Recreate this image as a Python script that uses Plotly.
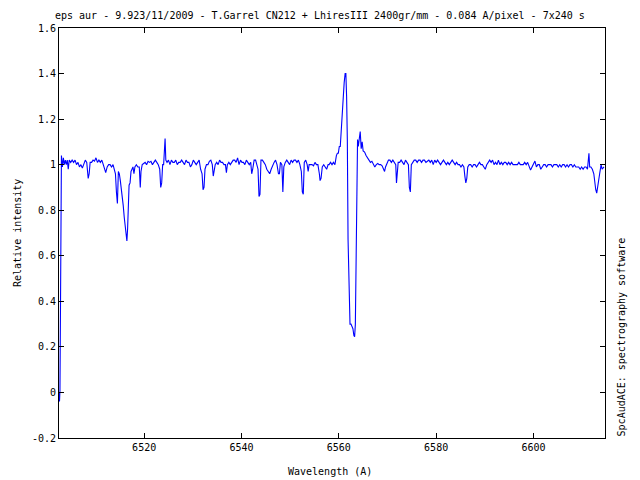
import plotly.graph_objects as go

# Spectrum (wavelength in Angstrom, relative intensity)
wavelength = [
    6502.50, 6502.60, 6502.70, 6502.85, 6503.00, 6503.20, 6503.40, 6503.60, 6503.80, 6504.00,
    6504.20, 6504.40, 6504.60, 6504.90, 6505.20, 6505.50, 6505.80, 6506.10, 6506.40, 6506.70,
    6507.00, 6507.30, 6507.60, 6507.90, 6508.20, 6508.50, 6508.70, 6508.90, 6509.20, 6509.50,
    6509.80, 6510.10, 6510.40, 6510.70, 6511.00, 6511.30, 6511.60, 6511.90, 6512.10, 6512.40,
    6512.70, 6513.00, 6513.30, 6513.60, 6513.90, 6514.10, 6514.30, 6514.50, 6514.70, 6514.90,
    6515.10, 6515.30, 6515.50, 6515.70, 6515.90, 6516.10, 6516.30, 6516.45, 6516.60, 6516.75,
    6516.90, 6517.10, 6517.30, 6517.50, 6517.70, 6517.90, 6518.10, 6518.40, 6518.70, 6519.00,
    6519.20, 6519.35, 6519.60, 6519.90, 6520.20, 6520.50, 6520.80, 6521.10, 6521.40, 6521.70,
    6522.00, 6522.30, 6522.60, 6522.90, 6523.20, 6523.40, 6523.60, 6523.80, 6524.00, 6524.15,
    6524.30, 6524.45, 6524.70, 6525.00, 6525.30, 6525.60, 6525.90, 6526.20, 6526.50, 6526.80,
    6527.10, 6527.40, 6527.70, 6528.00, 6528.30, 6528.60, 6528.90, 6529.20, 6529.50, 6529.80,
    6530.10, 6530.40, 6530.70, 6531.00, 6531.30, 6531.60, 6531.90, 6532.10, 6532.30, 6532.50,
    6532.80, 6533.10, 6533.40, 6533.70, 6534.00, 6534.20, 6534.40, 6534.60, 6534.90, 6535.20,
    6535.50, 6535.80, 6536.10, 6536.40, 6536.70, 6536.90, 6537.10, 6537.40, 6537.70, 6538.00,
    6538.30, 6538.60, 6538.90, 6539.20, 6539.50, 6539.80, 6540.10, 6540.40, 6540.70, 6541.00,
    6541.30, 6541.60, 6541.90, 6542.10, 6542.30, 6542.60, 6542.90, 6543.10, 6543.40, 6543.60,
    6543.80, 6544.00, 6544.30, 6544.60, 6544.90, 6545.20, 6545.50, 6545.80, 6546.10, 6546.40,
    6546.70, 6547.00, 6547.30, 6547.60, 6547.80, 6548.00, 6548.30, 6548.50, 6548.70, 6549.00,
    6549.30, 6549.60, 6549.90, 6550.20, 6550.50, 6550.80, 6551.10, 6551.40, 6551.70, 6552.00,
    6552.30, 6552.50, 6552.70, 6552.90, 6553.20, 6553.50, 6553.70, 6553.90, 6554.20, 6554.50,
    6554.80, 6555.10, 6555.40, 6555.70, 6556.00, 6556.15, 6556.35, 6556.60, 6556.90, 6557.20,
    6557.50, 6557.80, 6558.00, 6558.30, 6558.60, 6558.90, 6559.20, 6559.50, 6559.70, 6559.90,
    6560.10, 6560.30, 6560.50, 6560.70, 6560.90, 6561.10, 6561.30, 6561.45, 6561.60, 6561.75,
    6561.90, 6562.10, 6562.30, 6562.50, 6562.70, 6562.90, 6563.10, 6563.25, 6563.40, 6563.55,
    6563.70, 6563.85, 6564.00, 6564.20, 6564.40, 6564.60, 6564.80, 6565.00, 6565.30, 6565.60,
    6565.90, 6566.20, 6566.50, 6566.80, 6567.10, 6567.40, 6567.70, 6568.00, 6568.30, 6568.60,
    6568.90, 6569.20, 6569.40, 6569.60, 6569.90, 6570.20, 6570.50, 6570.80, 6571.10, 6571.40,
    6571.70, 6571.85, 6572.00, 6572.20, 6572.50, 6572.80, 6573.10, 6573.40, 6573.70, 6574.00,
    6574.30, 6574.50, 6574.70, 6574.90, 6575.20, 6575.50, 6575.80, 6576.10, 6576.40, 6576.70,
    6577.00, 6577.30, 6577.60, 6577.90, 6578.20, 6578.50, 6578.80, 6579.10, 6579.40, 6579.70,
    6580.00, 6580.30, 6580.60, 6580.90, 6581.20, 6581.50, 6581.80, 6582.10, 6582.40, 6582.70,
    6583.00, 6583.30, 6583.60, 6583.90, 6584.20, 6584.50, 6584.80, 6585.10, 6585.40, 6585.70,
    6585.90, 6586.10, 6586.30, 6586.50, 6586.80, 6587.10, 6587.40, 6587.70, 6588.00, 6588.30,
    6588.60, 6588.90, 6589.20, 6589.50, 6589.80, 6590.10, 6590.40, 6590.70, 6591.00, 6591.30,
    6591.60, 6591.90, 6592.20, 6592.50, 6592.80, 6593.10, 6593.40, 6593.70, 6594.00, 6594.30,
    6594.60, 6594.90, 6595.20, 6595.50, 6595.80, 6596.10, 6596.40, 6596.70, 6597.00, 6597.30,
    6597.60, 6597.90, 6598.20, 6598.50, 6598.80, 6599.10, 6599.40, 6599.70, 6600.00, 6600.30,
    6600.60, 6600.90, 6601.20, 6601.50, 6601.80, 6602.10, 6602.40, 6602.70, 6603.00, 6603.30,
    6603.60, 6603.90, 6604.20, 6604.50, 6604.80, 6605.10, 6605.40, 6605.70, 6606.00, 6606.30,
    6606.60, 6606.90, 6607.20, 6607.50, 6607.80, 6608.10, 6608.40, 6608.70, 6609.00, 6609.30,
    6609.60, 6609.90, 6610.20, 6610.50, 6610.80, 6611.10, 6611.40, 6611.55, 6611.80, 6612.10,
    6612.40, 6612.60, 6612.80, 6613.00, 6613.25, 6613.60, 6613.90, 6614.10, 6614.50,
]

intensity = [
    0.00, -0.04, 0.01, 0.48, 1.04, 0.99, 1.03, 1.00, 1.02, 1.00,
    1.02, 0.98, 1.02, 1.01, 1.02, 1.01, 1.02, 1.00, 1.01, 0.99,
    1.00, 0.985, 1.00, 1.02, 1.01, 0.94, 0.96, 1.01, 1.01, 1.02,
    1.015, 1.03, 1.01, 1.02, 1.01, 1.02, 1.00, 0.98, 0.965, 0.99,
    1.00, 1.00, 0.99, 1.00, 0.98, 0.96, 0.88, 0.83, 0.97, 0.96,
    0.93, 0.90, 0.86, 0.82, 0.77, 0.72, 0.68, 0.665, 0.72, 0.85,
    0.91, 0.92, 0.97, 0.98, 0.99, 0.96, 0.99, 1.00, 0.99, 0.99,
    0.90, 0.97, 1.00, 1.005, 1.01, 1.00, 1.015, 1.01, 1.015, 1.00,
    1.01, 1.02, 1.01, 1.00, 0.98, 0.90, 0.92, 1.00, 1.00, 1.08,
    1.115, 1.02, 1.01, 1.02, 1.00, 1.02, 1.01, 1.01, 1.02, 1.00,
    1.01, 1.01, 1.02, 1.01, 1.00, 1.02, 1.01, 1.01, 0.99, 1.00,
    1.02, 1.01, 1.00, 1.01, 1.02, 0.98, 0.96, 0.89, 0.90, 0.98,
    1.00, 1.00, 1.015, 1.02, 1.00, 0.95, 0.97, 1.00, 1.01, 1.00,
    1.02, 1.01, 1.01, 1.00, 1.00, 0.965, 1.00, 1.01, 1.00, 1.01,
    1.02, 1.02, 1.01, 1.03, 1.00, 1.02, 1.01, 1.01, 1.00, 1.02,
    1.01, 1.00, 1.01, 0.96, 0.98, 1.02, 1.02, 1.00, 0.98, 0.86,
    0.87, 1.02, 1.02, 1.01, 1.00, 0.98, 0.97, 0.96, 0.98, 1.00,
    1.01, 1.02, 1.00, 0.96, 0.96, 1.01, 1.00, 0.88, 0.99, 1.01,
    1.02, 1.01, 1.00, 1.02, 1.01, 1.02, 1.02, 1.01, 1.02, 1.00,
    0.97, 0.88, 0.87, 1.01, 1.02, 1.00, 0.97, 1.00, 1.00, 1.00,
    0.995, 1.01, 1.00, 1.00, 0.96, 0.93, 0.94, 0.99, 1.00, 0.99,
    0.98, 1.00, 1.00, 1.01, 1.00, 1.01, 1.00, 1.04, 1.05, 1.05,
    1.08, 1.08, 1.165, 1.20, 1.31, 1.36, 1.40, 1.40, 1.30, 1.11,
    0.67, 0.41, 0.30, 0.30, 0.29, 0.28, 0.25, 0.245, 0.30, 0.54,
    0.87, 1.11, 1.08, 1.12, 1.145, 1.07, 1.10, 1.06, 1.055, 1.04,
    1.03, 1.02, 1.01, 1.015, 1.00, 0.99, 1.00, 1.005, 1.00, 1.00,
    0.995, 0.98, 0.97, 0.99, 1.01, 1.02, 1.02, 1.01, 1.02, 1.01,
    1.00, 0.92, 0.95, 1.01, 1.01, 1.02, 1.01, 1.00, 1.02, 1.01,
    1.00, 0.90, 0.88, 1.00, 1.01, 1.02, 1.02, 1.01, 1.02, 1.02,
    1.01, 1.02, 1.02, 1.01, 1.015, 1.02, 1.01, 1.02, 1.00, 1.02,
    1.01, 1.02, 1.01, 1.00, 1.01, 1.02, 1.01, 1.00, 1.01, 1.00,
    1.01, 1.02, 1.01, 1.00, 1.01, 1.00, 1.00, 0.99, 1.00, 0.99,
    0.95, 0.92, 0.94, 0.99, 1.00, 1.00, 0.99, 1.00, 1.00, 0.99,
    1.00, 1.01, 1.00, 1.00, 0.99, 0.98, 1.00, 1.01, 1.02, 1.01,
    1.02, 1.00, 1.01, 1.00, 1.02, 1.00, 1.01, 1.00, 1.01, 1.01,
    1.00, 1.01, 1.00, 1.01, 1.00, 1.00, 1.00, 1.00, 1.01, 1.00,
    1.00, 1.00, 1.01, 1.00, 1.01, 0.99, 0.976, 0.99, 1.00, 1.016,
    0.99, 1.00, 1.00, 0.98, 0.99, 1.00, 1.00, 0.99, 1.00, 1.00,
    1.00, 0.99, 1.00, 1.00, 1.00, 0.99, 1.00, 0.99, 1.00, 1.00,
    0.99, 1.00, 0.99, 1.00, 1.00, 0.99, 1.00, 0.99, 0.99, 0.99,
    0.98, 0.99, 0.98, 0.99, 0.99, 0.98, 1.05, 0.99, 0.99, 0.98,
    0.96, 0.91, 0.89, 0.875, 0.92, 0.96, 1.00, 0.98, 0.99,
]

x_tick_values = [6520, 6540, 6560, 6580, 6600]
x_tick_labels = ["6520", "6540", "6560", "6580", "6600"]
y_tick_values = [-0.2, 0, 0.2, 0.4, 0.6, 0.8, 1.0, 1.2, 1.4, 1.6]
y_tick_labels = ["-0.2", "0", "0.2", "0.4", "0.6", "0.8", "1", "1.2", "1.4", "1.6"]

title_text = "eps aur - 9.923/11/2009 - T.Garrel CN212 + LhiresIII 2400gr/mm - 0.084 A/pixel - 7x240 s"
x_title = "Wavelength (A)"
y_title = "Relative intensity"
side_text = "SpcAudACE: spectrography software"

FONT = "DejaVu Sans Mono"

fig = go.Figure()
fig.add_trace(go.Scatter(
    x=wavelength, y=intensity, mode="lines",
    line=dict(color="#0000ff", width=1.1),
    showlegend=False, hoverinfo="skip",
))

axis_common = dict(
    showgrid=False, zeroline=False, showline=True, linecolor="black", linewidth=1,
    mirror="ticks", ticks="inside", ticklen=5, tickcolor="black", tickwidth=1,
    tickfont=dict(family=FONT, size=10, color="black"),
)

fig.update_layout(
    width=640, height=480, autosize=False,
    margin=dict(l=59, r=35, t=28, b=42, pad=0),
    paper_bgcolor="white", plot_bgcolor="white",
    font=dict(family=FONT, size=10, color="black"),
    xaxis=dict(range=[6502.5, 6614.7], tickmode="array", tickvals=x_tick_values,
               ticktext=x_tick_labels, **axis_common),
    yaxis=dict(range=[-0.2, 1.6], tickmode="array", tickvals=y_tick_values,
               ticktext=y_tick_labels, **axis_common),
    annotations=[
        dict(text=title_text, xref="paper", yref="paper", x=0.478, y=1.0317,
             xanchor="center", yanchor="middle", showarrow=False,
             font=dict(family=FONT, size=10, color="black")),
        dict(text=x_title, xref="paper", yref="paper", x=0.496, y=-0.0805,
             xanchor="center", yanchor="middle", showarrow=False,
             font=dict(family=FONT, size=10, color="black")),
        dict(text=y_title, xref="paper", yref="paper", x=-0.0769, y=0.5,
             xanchor="center", yanchor="middle", textangle=-90, showarrow=False,
             font=dict(family=FONT, size=10, color="black")),
        dict(text=side_text, xref="paper", yref="paper", x=1.031, y=0.0,
             xanchor="center", yanchor="bottom", textangle=-90, showarrow=False,
             font=dict(family=FONT, size=10, color="black")),
    ],
)

fig.write_html("out.html", config={"displayModeBar": False, "staticPlot": True},
               post_script="document.body.style.margin='0px';")
